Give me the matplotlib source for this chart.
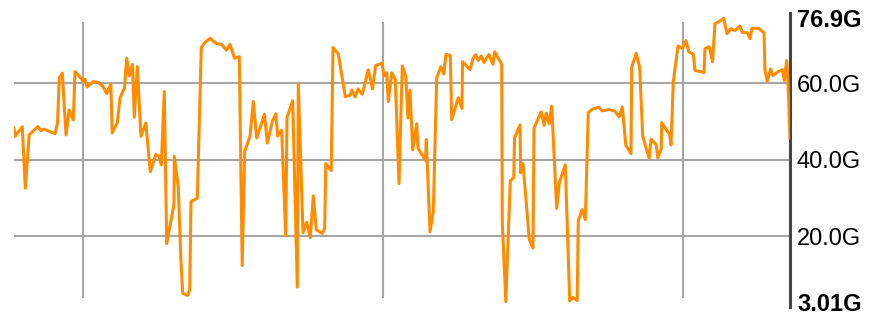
import matplotlib
matplotlib.use("Agg")
import matplotlib.pyplot as plt

# time offset of each sample and throughput in G
t = [0, 1, 8.3, 11.3, 15.2, 24, 26.7, 30, 41, 43.5,
     45.3, 48.3, 52, 55.2, 59.3, 61, 67.7, 68.7, 71, 73.3,
     79.3, 84.3, 88.7, 92.7, 96.8, 98.2, 103.3, 106, 110.5, 112.7,
     115.3, 118.5, 120.3, 123.3, 127, 131.8, 136.3, 141.8, 145.2, 147.3,
     150.3, 152.7, 160, 160.3, 164.3, 167, 168.7, 173.5, 175.7, 177,
     183.3, 187.3, 190.5, 196.3, 200, 203.3, 207.7, 212.3, 216, 220.5,
     225.3, 228.2, 230.7, 236, 239.3, 242.7, 250.5, 253.3, 258.5, 261.8,
     263.7, 267.7, 271.7, 273, 278.7, 283.3, 284.3, 289, 292.7, 296.3,
     299.3, 302.3, 308.3, 310.7, 311.8, 317.2, 319, 324.3, 331.3, 336,
     338, 341, 344, 348.3, 354.3, 358.5, 361.7, 368, 370, 372.7,
     374.3, 377.7, 381.3, 385, 388.3, 391.8, 394, 396, 398.7, 402.7,
     404, 411.5, 412.3, 416, 419.3, 422.7, 426.8, 429.7, 432, 436.3,
     437.7, 444.3, 448, 448.5, 456, 459, 461.7, 464.3, 467.3, 470,
     475, 479, 480.7, 487.7, 488.3, 491.8, 496.3, 499.8, 500.5, 506,
     506.7, 509, 515.3, 519, 520, 527.2, 530.2, 532.3, 535.2, 537.7,
     542.7, 545.3, 551.3, 555.7, 559, 563.2, 564.3, 568.2, 571.3, 574.3,
     578.2, 584.8, 588.2, 595.7, 600.7, 605.3, 608.3, 611.8, 617, 617.7,
     622.2, 625.7, 628.7, 635.2, 637, 642.3, 643.8, 647.3, 647.7, 655.7,
     657, 659.3, 664, 668.2, 672, 674.8, 679.3, 681, 690, 691,
     695.2, 698.5, 701, 706, 709.7, 713, 717, 721, 725.7, 728.5,
     733.3, 736, 738, 744.7, 750, 751, 753.3, 756.7, 759, 764.3,
     768.5, 770.3, 772.7, 774, 776]

gbits = [48.3, 46.1, 48.6, 32.6, 46.5, 48.7, 47.6, 48.0, 46.8, 49.6,
         61.3, 62.6, 46.5, 53.0, 50.4, 63.0, 61.1, 60.5, 61.0, 59.0,
         60.4, 60.2, 59.2, 57.3, 59.8, 47.0, 49.7, 56.2, 58.7, 66.5,
         61.9, 64.9, 51.1, 64.3, 46.1, 49.6, 36.9, 41.4, 40.9, 38.7,
         57.8, 18.1, 28.4, 40.9, 32.8, 13.3, 5.2, 4.6, 6.1, 29.1,
         30.0, 69.3, 70.5, 71.7, 70.8, 70.3, 70.1, 68.6, 70.1, 66.5,
         66.9, 12.4, 42.2, 46.1, 55.2, 45.7, 51.9, 44.4, 50.1, 52.0,
         46.2, 47.7, 20.2, 51.0, 55.4, 6.8, 59.8, 21.0, 23.7, 19.7,
         30.6, 21.7, 20.8, 22.2, 39.0, 37.2, 69.3, 67.6, 56.5, 56.8,
         58.2, 56.4, 58.5, 57.1, 63.5, 58.5, 64.6, 65.2, 61.9, 62.7,
         55.2, 62.7, 60.9, 33.8, 64.5, 61.8, 50.9, 58.2, 42.6, 49.4,
         43.0, 39.9, 45.3, 21.2, 26.6, 61.3, 64.3, 62.4, 67.5, 67.2,
         50.5, 56.2, 53.4, 65.6, 63.5, 66.4, 67.4, 65.9, 67.1, 65.4,
         67.5, 64.9, 68.2, 64.9, 23.6, 3.01, 34.5, 35.4, 45.7, 49.1,
         36.6, 39.0, 19.2, 17.0, 48.3, 52.5, 49.0, 52.2, 49.4, 54.0,
         27.3, 34.0, 38.7, 3.2, 4.1, 3.3, 24.2, 27.0, 24.4, 52.3,
         53.2, 53.7, 52.8, 53.1, 52.7, 51.2, 53.8, 43.8, 41.6, 64.1,
         67.8, 64.0, 46.2, 40.4, 45.4, 43.9, 40.5, 42.9, 49.7, 46.5,
         43.9, 60.4, 69.7, 69.1, 71.1, 68.2, 67.5, 63.3, 62.8, 69.0,
         69.5, 65.6, 75.5, 76.2, 76.9, 72.9, 74.2, 73.7, 74.9, 73.2,
         73.2, 71.6, 74.3, 74.3, 73.1, 63.3, 60.5, 63.7, 62.0, 63.0,
         63.5, 60.7, 65.9, 60.4, 45.7]

ytick_vals = [3.01, 20, 40, 60, 76.9]
ytick_labels = ["3.01G", "20.0G", "40.0G", "60.0G", "76.9G"]
xgrid = [69, 369, 669]

plt.rcParams['font.family'] = ['Liberation Sans', 'DejaVu Sans']

fig = plt.figure(figsize=(8.69, 3.25), dpi=100)
ax = fig.add_axes([14 / 869, 18 / 325, 776 / 869, 294 / 325])

for y in ytick_vals[1:-1]:
    ax.axhline(y, color="#a6a6a6", lw=1.5, zorder=1)
for x in xgrid:
    ax.axvline(x, ymin=0.034, ymax=0.966, color="#a6a6a6", lw=1.5, zorder=1)

ax.plot(t, gbits, color="#ff8c00", lw=2.2, zorder=3)

ax.set_xlim(0, 776)
ax.set_ylim(1.6, 78.3)
ax.set_xticks([])

for side in ["left", "top", "bottom"]:
    ax.spines[side].set_visible(False)
ax.spines["right"].set_color("#444444")
ax.spines["right"].set_linewidth(2.2)

ax.yaxis.tick_right()
ax.set_yticks(ytick_vals)
ax.set_yticklabels(ytick_labels)
ax.tick_params(axis="y", length=0, pad=5, labelsize=17, labelcolor="#000000")
for lbl in (ax.get_yticklabels()[0], ax.get_yticklabels()[-1]):
    lbl.set_fontweight("bold")

fig.savefig("out.png", dpi=100)
